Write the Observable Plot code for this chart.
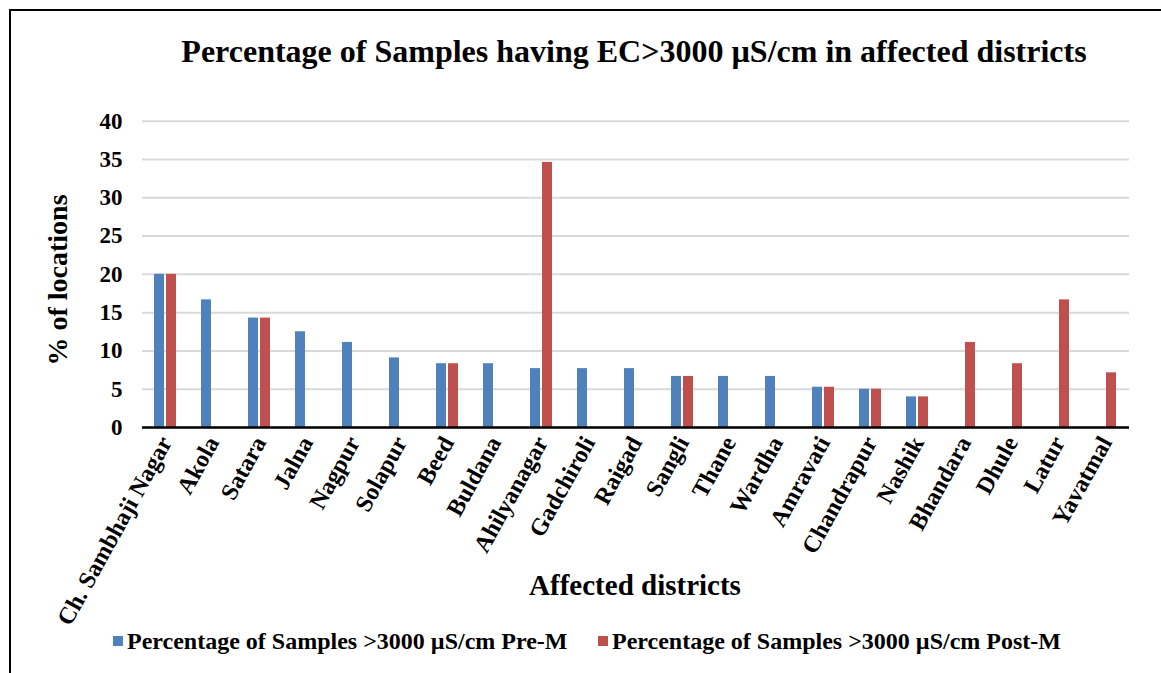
<!DOCTYPE html>
<html><head><meta charset="utf-8">
<script src="https://cdn.jsdelivr.net/npm/d3@7"></script>
<script src="https://cdn.jsdelivr.net/npm/@observablehq/plot@0.6"></script>
<style>
html,body{margin:0;padding:0;background:#fff;overflow:hidden;width:1161px;height:673px}
body{position:relative;font-family:"Liberation Serif","Times New Roman",serif;font-weight:bold;color:#000}
#frame{position:absolute;left:9px;top:9px;width:1200px;height:700px;border:2px solid #000;box-sizing:border-box}
#title{position:absolute;left:0;width:1268px;top:33px;text-align:center;font-size:32px;white-space:nowrap}
#chart{position:absolute;left:0;top:90px}
#ylabel{position:absolute;left:58px;top:280px;transform:translate(-50%,-50%) rotate(-90deg);font-size:28px;white-space:nowrap}
#xlabel{position:absolute;left:141px;width:988px;top:569px;text-align:center;font-size:29px}
#legend{position:absolute;top:627px;left:0;width:1161px;font-size:24px;white-space:nowrap}
.item{position:absolute;top:0;display:flex;align-items:center;height:28px}
.sw{width:10px;height:10px;margin-right:4px}
#chart [aria-label^="fx-axis"] text{font-size:24px}
#chart [aria-label^="y-axis"] text{font-size:23px}
</style></head>
<body>
<div id="frame"></div>
<div id="title">Percentage of Samples having EC&gt;3000 µS/cm in affected districts</div>
<div id="chart"></div>
<div id="ylabel">% of locations</div>
<div id="xlabel">Affected districts</div>
<div id="legend"></div>
<script>
const districts = ["Ch. Sambhaji Nagar","Akola","Satara","Jalna","Nagpur","Solapur","Beed","Buldana","Ahilyanagar","Gadchiroli","Raigad","Sangli","Thane","Wardha","Amravati","Chandrapur","Nashik","Bhandara","Dhule","Latur","Yavatmal"];
const preM  = [20,16.67,14.29,12.5,11.11,9.09,8.33,8.33,7.69,7.69,7.69,6.67,6.67,6.67,5.26,5,4,0,0,0,0];
const postM = [20,0,14.29,0,0,0,8.33,0,34.62,0,0,6.67,0,0,5.26,5,4,11.11,8.33,16.67,7.14];
const seriesNames = ["Pre-M","Post-M"];
const seriesLabels = ["Percentage of Samples >3000 µS/cm Pre-M","Percentage of Samples >3000 µS/cm Post-M"];
const seriesColors = ["#4f81bd","#c0504d"];
const yTicks = [0,5,10,15,20,25,30,35,40];

const rows = [];
districts.forEach((d,i)=>{
  rows.push({district:d, series:seriesNames[0], value:preM[i]});
  rows.push({district:d, series:seriesNames[1], value:postM[i]});
});

const chart = Plot.plot({
  width: 1161,
  height: 560,
  marginLeft: 141,
  marginRight: 32,
  marginTop: 30.7,
  marginBottom: 223,
  style: {fontFamily:'"Liberation Serif","Times New Roman",serif', fontWeight:"bold", fontSize:"22px", color:"#000", background:"transparent", overflow:"visible"},
  facet: {data: rows, x: "district"},
  fx: {domain: districts, padding: 0, tickRotate: -61, tickSize: 0, tickPadding: 11, label: null},
  x: {domain: seriesNames, paddingInner: 0.154, paddingOuter: 0.887, axis: null},
  y: {domain: [0,40], ticks: yTicks, tickSize: 0, tickPadding: 20, label: null},
  color: {domain: seriesNames, range: seriesColors},
  marks: [
    Plot.ruleY(yTicks, {stroke:"#d9d9d9", strokeWidth:2}),
    Plot.barY(rows, {x:"series", y:"value", fill:"series", filter: d => d.value > 0}),
    Plot.ruleY([0], {stroke:"#000", strokeWidth:2.5})
  ]
});
document.getElementById("chart").appendChild(chart);

const leg = document.getElementById("legend");
const lx = [113, 598];
seriesLabels.forEach((t,i)=>{
  const it = document.createElement("div");
  it.className = "item";
  it.style.left = lx[i] + "px";
  it.innerHTML = `<span class="sw" style="background:${seriesColors[i]}"></span><span></span>`;
  it.lastChild.textContent = t;
  leg.appendChild(it);
});
</script>
</body></html>
